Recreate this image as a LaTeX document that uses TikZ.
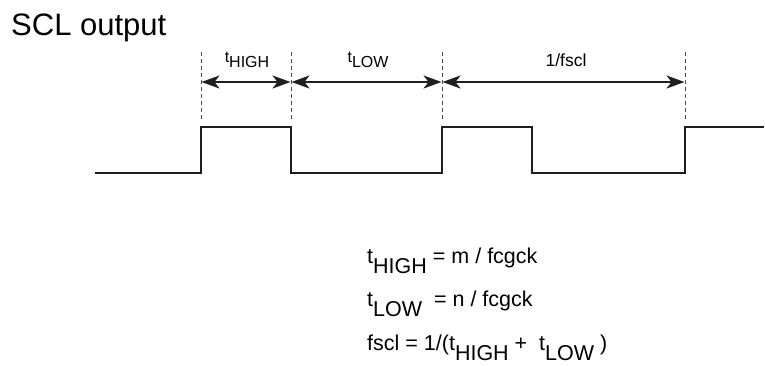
\documentclass[tikz,border=0pt]{standalone}
\usepackage{fontspec}
\setmainfont{Liberation Sans}
\usetikzlibrary{arrows.meta}
\newcommand\dn[2][0.47em]{\raisebox{-#1}{#2}}
\begin{document}
\begin{tikzpicture}[x=1pt,y=-1pt,
  wave/.style={line width=2.2pt, black!88, line join=miter},
  guide/.style={line width=0.8pt, black!70, dash pattern=on 4pt off 3pt},
  dim/.style={line width=1.5pt, black!88, {Stealth[length=18pt,width=13pt,inset=5pt]}-{Stealth[length=18pt,width=13pt,inset=5pt]}, shorten <=0.5pt, shorten >=0.5pt},
  lbl/.style={inner sep=0pt, anchor=base, font=\fontsize{16}{18}\selectfont},
  eq/.style={inner sep=0pt, anchor=base west, font=\fontsize{21.5}{24}\selectfont},
]
\useasboundingbox (0,0) rectangle (765,365);
% title
\node[inner sep=0pt, anchor=base west, font=\fontsize{31}{34}\selectfont] (title) at (11,35) {SCL output};
% dashed guides
\foreach \n/\x in {1/201,2/291,3/442,4/685}{
  \coordinate (g\n t) at (\x,52);
  \coordinate (g\n b) at (\x,122);
  \coordinate (a\n) at (\x,82);
  \draw[guide] (g\n t) -- (g\n b);
}
% dimension arrows
\draw[dim] (a1) -- (a2);
\draw[dim] (a2) -- (a3);
\draw[dim] (a3) -- (a4);
% labels
\node[lbl] (lh) at (247,62) {t\dn[0.35em]{HIGH}};
\node[lbl] (ll) at (368,62) {t\dn[0.35em]{LOW}};
\node[lbl, font=\fontsize{17.5}{19}\selectfont] (lf) at (566,66) {1/fscl};
% waveform
\coordinate (w0) at (95,173);
\coordinate (w1) at (201,173);
\coordinate (w2) at (201,127);
\coordinate (w3) at (291,127);
\coordinate (w4) at (291,173);
\coordinate (w5) at (442,173);
\coordinate (w6) at (442,127);
\coordinate (w7) at (532,127);
\coordinate (w8) at (532,173);
\coordinate (w9) at (685,173);
\coordinate (w10) at (685,127);
\coordinate (w11) at (764,127);
\draw[wave] (w0) -- (w1) -- (w2) -- (w3) -- (w4) -- (w5) -- (w6) -- (w7) -- (w8) -- (w9) -- (w10) -- (w11);
% equations
\node[eq] (e1) at (367,263) {t\dn{HIGH} = m / fcgck};
\node[eq] (e2) at (367,306) {t\dn{LOW}\ \ = n / fcgck};
\node[eq] (e3) at (367,350) {fscl = 1/(t\dn{HIGH} +\ \ t\dn{LOW} )};
\end{tikzpicture}
\end{document}
